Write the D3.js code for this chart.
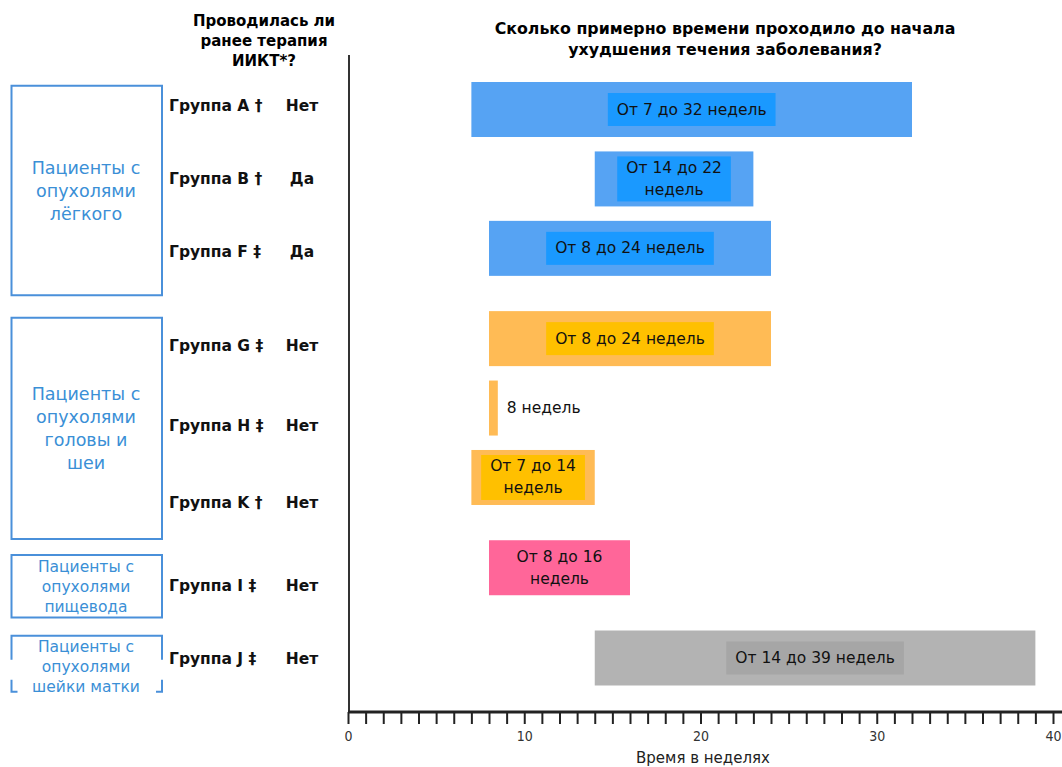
<html>

<body>
    <svg id='viz'></svg>
</body>
<style>
    body {
        margin: 0;
        background: #fff;
    }

    svg {
        display: block;
        font-family: "DejaVu Sans", Verdana, sans-serif;
    }

    .grp {
        font-weight: bold;
        font-size: 15.5px;
        fill: #111;
    }

    .boxtext {
        fill: #3A8FD6;
    }
</style>
<script src='https://d3js.org/d3.v7.min.js'></script>
<script>
    var width = 1062;
    var height = 767;

    // data
    var groups = ["A", "B", "F", "G", "H", "K", "I", "J"];
    var markers = ["†", "†", "‡", "‡", "‡", "†", "‡", "‡"];
    var priorTherapy = ["Нет", "Да", "Да", "Нет", "Нет", "Нет", "Нет", "Нет"];
    var cancer = ["lung", "lung", "lung", "head", "head", "head", "eso", "cervix"];
    var startWeek = [7, 14, 8, 8, 8, 7, 8, 14];
    var endWeek = [32, 23, 24, 24, 8.5, 14, 16, 39];
    var rangeLabels = [
        ["От 7 до 32 недель"],
        ["От 14 до 22", "недель"],
        ["От 8 до 24 недель"],
        ["От 8 до 24 недель"],
        ["8 недель"],
        ["От 7 до 14", "недель"],
        ["От 8 до 16", "недель"],
        ["От 14 до 39 недель"]
    ];
    var cancerTypes = ["lung", "head", "eso", "cervix"];
    var cancerNames = [
        ["Пациенты с", "опухолями", "лёгкого"],
        ["Пациенты с", "опухолями", "головы и", "шеи"],
        ["Пациенты с", "опухолями", "пищевода"],
        ["Пациенты с", "опухолями", "шейки матки"]
    ];
    var xTicks = [0, 10, 20, 30, 40];

    // styles / layout
    var barColor = { lung: "#56A3F3", head: "#FFBB55", eso: "#FF6699", cervix: "#B3B3B3" };
    var innerColor = { lung: "#1A99FF", head: "#FFC000", eso: "#FF6699", cervix: "#A6A6A6" };
    var barSlot = [0, 1, 2, 3.3, 4.3, 5.3, 6.6, 7.9];
    var labelSlot = [0, 1, 2, 3.3, 4.4, 5.45, 6.6, 7.6];
    var boxSpan = { lung: [-0.28, 2.6], head: [2.91, 5.95], eso: [6.17, 7.03], cervix: [7.28, 8.05] };
    var boxFont = { lung: 17.5, head: 17.5, eso: 15.5, cervix: 15.5 };

    var svg = d3.select("#viz").attr("width", width).attr("height", height);

    var x = d3.scaleLinear().domain([0, 40]).range([348, 1053]);
    var y = d3.scaleLinear().domain([0, 7.9]).range([109.5, 658]);
    var ly = d3.scaleLinear().domain([0, 7.6]).range([106, 659]);
    var barH = 55;

    // titles
    var t1 = svg.append("text").attr("x", 725).attr("y", 34)
        .attr("text-anchor", "middle").style("font-weight", "bold").style("font-size", "15.8px");
    t1.append("tspan").attr("x", 725).attr("dy", 0).text("Сколько примерно времени проходило до начала");
    t1.append("tspan").attr("x", 725).attr("dy", 21).text("ухудшения течения заболевания?");

    var t2 = svg.append("text").attr("text-anchor", "middle")
        .style("font-weight", "bold").style("font-size", "15px");
    ["Проводилась ли", "ранее терапия", "ИИКТ*?"].forEach(function (s, i) {
        t2.append("tspan").attr("x", 264).attr("y", 26 + i * 20).text(s);
    });

    // bars
    var bars = svg.append("g").selectAll("g")
        .data(groups)
        .enter().append("g");

    bars.append("rect")
        .attr("x", function (d, i) { return x(startWeek[i]); })
        .attr("y", function (d, i) { return y(barSlot[i]) - barH / 2; })
        .attr("width", function (d, i) { return x(endWeek[i]) - x(startWeek[i]); })
        .attr("height", barH)
        .attr("fill", function (d, i) { return barColor[cancer[i]]; });

    bars.each(function (d, i) {
        var g = d3.select(this);
        var lines = rangeLabels[i];
        var cy = y(barSlot[i]);
        var x0 = x(startWeek[i]), x1 = x(endWeek[i]);
        var single = x1 - x0 < 30;
        var cx = single ? x1 + 9 : (x0 + x1) / 2;
        var lh = 22;
        var txt = g.append("text")
            .attr("text-anchor", single ? "start" : "middle")
            .style("font-size", "15.5px").style("fill", "#111");
        lines.forEach(function (s, k) {
            txt.append("tspan").attr("x", cx)
                .attr("y", cy + (k - (lines.length - 1) / 2) * lh + 5)
                .text(s);
        });
        if (!single) {
            var w = 0;
            txt.selectAll("tspan").each(function () { w = Math.max(w, this.getComputedTextLength()); });
            var bw = Math.min(w + 18, x1 - x0 - 2);
            var bh = lines.length > 1 ? 45 : 33;
            g.insert("rect", "text")
                .attr("x", cx - bw / 2).attr("y", cy - bh / 2)
                .attr("width", bw).attr("height", bh)
                .attr("fill", innerColor[cancer[i]]);
        }
    });

    // axes
    svg.append("line").attr("x1", 349).attr("x2", 349).attr("y1", 55).attr("y2", 712)
        .attr("stroke", "#333").attr("stroke-width", 2);

    var xMinor = svg.append("g").attr("transform", "translate(0,712)")
        .call(d3.axisBottom(x).tickValues(d3.range(0, 41)).tickSize(12).tickFormat(""));
    xMinor.select(".domain").attr("stroke", "#222").attr("stroke-width", 3)
        .attr("d", "M348,0H1062");
    xMinor.selectAll(".tick line").attr("stroke", "#222").attr("stroke-width", 2);

    var xMajor = svg.append("g").attr("transform", "translate(0,712)")
        .call(d3.axisBottom(x).tickValues(xTicks).tickSize(0).tickPadding(19));
    xMajor.select(".domain").remove();
    xMajor.selectAll("text").style("font-size", "14px").style("fill", "#333")
        .style("font-family", "'DejaVu Sans Condensed', 'DejaVu Sans', sans-serif");

    svg.append("text").attr("x", 703).attr("y", 763).attr("text-anchor", "middle")
        .style("font-size", "15px").style("fill", "#222").text("Время в неделях");

    // left labels
    var left = svg.append("g");
    groups.forEach(function (g, i) {
        left.append("text").attr("class", "grp")
            .attr("x", 169).attr("y", ly(labelSlot[i]) + 5)
            .text("Группа " + g + " " + markers[i]);
        left.append("text").attr("class", "grp")
            .attr("x", 302).attr("y", ly(labelSlot[i]) + 5)
            .attr("text-anchor", "middle")
            .text(priorTherapy[i]);
    });

    // cancer boxes
    cancerTypes.forEach(function (c, j) {
        var top = ly(boxSpan[c][0]), bot = ly(boxSpan[c][1]);
        var bx0 = 11.5, bx1 = 162;
        var p;
        if (c === "cervix") {
            p = "M" + bx0 + "," + (top + 24) + "V" + top + "H" + bx1 + "V" + (top + 24) +
                "M" + bx0 + "," + (bot - 12) + "V" + bot + "H" + (bx0 + 6) +
                "M" + bx1 + "," + (bot - 12) + "V" + bot + "H" + (bx1 - 6);
        } else {
            p = "M" + bx0 + "," + top + "H" + bx1 + "V" + bot + "H" + bx0 + "Z";
        }
        left.append("path").attr("d", p).attr("fill", "none")
            .attr("stroke", "#4A90DA").attr("stroke-width", 2);
        var lines = cancerNames[j];
        var fs = boxFont[c];
        var lh = c === "lung" || c === "head" ? 23 : 20;
        var cy = (top + bot) / 2 + (c === "cervix" ? 3 : 0);
        var t = left.append("text").attr("class", "boxtext").attr("text-anchor", "middle")
            .style("font-size", fs + "px");
        lines.forEach(function (s, k) {
            t.append("tspan").attr("x", 86)
                .attr("y", cy + (k - (lines.length - 1) / 2) * lh + fs * 0.35)
                .text(s);
        });
    });
</script>

</html>
